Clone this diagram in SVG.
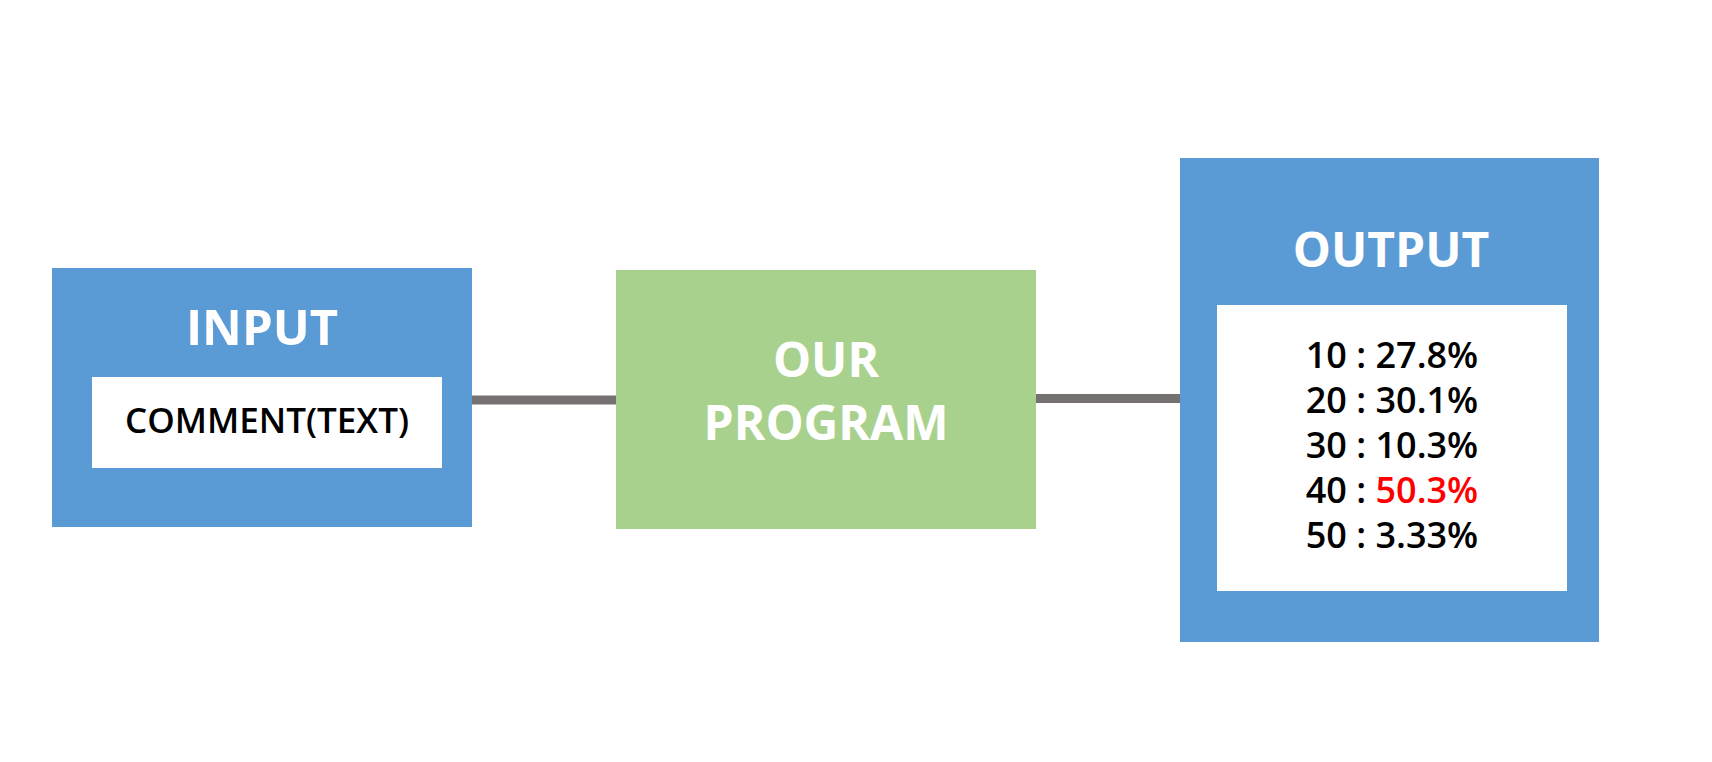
<svg xmlns="http://www.w3.org/2000/svg" width="1712" height="762" viewBox="0 0 1712 762">
<style>
.blue{fill:#5B9BD5}
.green{fill:#A9D18E}
.white{fill:#FFFFFF}
.title{font-family:"Open Sans","Noto Sans",sans-serif;font-weight:700;fill:#FFFFFF;text-anchor:middle}
.body{font-family:"Open Sans","Noto Sans",sans-serif;font-weight:600;fill:#000000;text-anchor:middle}
.conn{stroke:#767171;stroke-width:9;fill:none}
</style>
<rect width="1712" height="762" fill="#FFFFFF"/>
<g id="connectors">
<line class="conn" x1="472" y1="400" x2="616" y2="400"/>
<line class="conn" x1="1036" y1="398.5" x2="1180" y2="398.5"/>
</g>
<g id="input">
<rect class="blue" x="52" y="268" width="420" height="259"/>
<text class="title" x="262" y="345" font-size="49">INPUT</text>
<rect class="white" x="92" y="377" width="350" height="91"/>
<text class="body" x="267" y="433" font-size="35">COMMENT(TEXT)</text>
</g>
<g id="program">
<rect class="green" x="616" y="270" width="420" height="259"/>
<text class="title" x="826" y="377" font-size="48">OUR</text>
<text class="title" x="826" y="440" font-size="48">PROGRAM</text>
</g>
<g id="output">
<rect class="blue" x="1180" y="158" width="419" height="484"/>
<text class="title" x="1391" y="267" font-size="48">OUTPUT</text>
<rect class="white" x="1217" y="305" width="350" height="286"/>
<text class="body" x="1392" y="368" font-size="36">10 : 27.8%</text>
<text class="body" x="1392" y="413" font-size="36">20 : 30.1%</text>
<text class="body" x="1392" y="458" font-size="36">30 : 10.3%</text>
<text class="body" x="1392" y="503" font-size="36">40 : <tspan fill="#FF0000">50.3%</tspan></text>
<text class="body" x="1392" y="548" font-size="36">50 : 3.33%</text>
</g>
</svg>
